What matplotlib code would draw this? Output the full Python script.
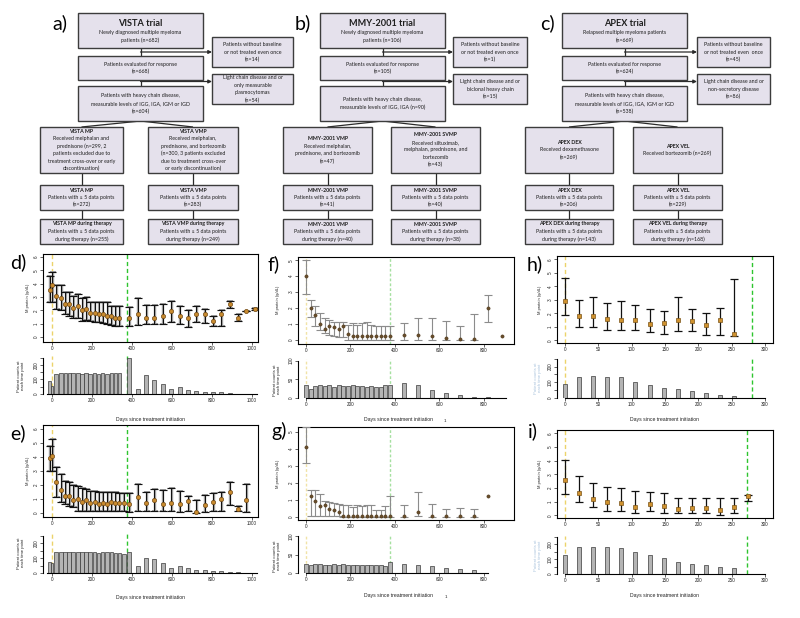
import numpy as np
import matplotlib
matplotlib.use('Agg')
import matplotlib.pyplot as plt
from matplotlib.patches import Rectangle

# ---------------- DATA ----------------
# Panel d (VISTA MP)
d_t = [-12, 0, 22, 45, 67, 87, 105, 128, 150, 170, 192, 213, 233, 253, 275, 297, 317, 337,
       387, 428, 470, 512, 553, 597, 638, 680, 722, 763, 805, 847, 888, 930, 972, 1013]
d_mean = [3.55, 3.9, 3.1, 2.9, 2.5, 2.5, 2.2, 2.3, 2.0, 2.1, 1.8, 1.8, 1.7, 1.75, 1.6, 1.55, 1.4, 1.45,
          1.4, 1.75, 1.45, 1.45, 1.6, 1.95, 1.6, 1.45, 1.75, 1.75, 1.2, 1.75, 2.45, 1.4, 1.95, 2.1]
d_lo = [2.6, 2.6, 2.1, 2.0, 1.75, 1.6, 1.4, 1.45, 1.2, 1.25, 1.2, 1.1, 1.1, 1.05, 1.0, 0.9, 0.8, 0.8,
        0.8, 0.9, 0.95, 0.95, 1.0, 1.1, 1.0, 0.75, 1.1, 1.05, 0.8, 0.8, 2.2, 1.2, 1.95, 2.05]
d_hi = [4.55, 4.9, 3.9, 3.9, 3.4, 3.4, 3.1, 3.2, 2.9, 3.0, 2.6, 2.6, 2.6, 2.6, 2.6, 2.3, 2.3, 2.35,
        2.25, 2.9, 2.4, 2.4, 2.5, 2.7, 2.3, 2.0, 2.3, 2.1, 1.6, 2.05, 2.7, 1.75, 1.95, 2.2]
d_n = [87, 54, 141, 143, 145, 146, 146, 146, 140, 143, 141, 144, 141, 143, 141, 145, 142, 145,
       248, 37, 128, 96, 70, 37, 48, 30, 22, 13, 11, 13, 4, 3, 2, 2]

# Panel e (VISTA VMP)
e_t = [-12, 0, 22, 45, 64, 84, 105, 128, 150, 170, 192, 213, 233, 253, 275, 297, 317, 337, 358,
       387, 428, 470, 512, 553, 597, 638, 680, 722, 763, 805, 847, 888, 930, 972]
e_mean = [3.9, 4.1, 2.2, 1.65, 1.2, 1.2, 0.95, 1.0, 0.8, 0.9, 0.7, 0.75, 0.6, 0.7, 0.65, 0.8, 0.7, 0.7, 0.7,
          0.6, 1.15, 0.7, 0.9, 0.65, 0.7, 0.6, 0.85, 0.05, 0.55, 0.8, 1.0, 1.5, 0.3, 0.95]
e_lo = [3.0, 3.0, 1.1, 0.8, 0.6, 0.5, 0.4, 0.1, 0.1, 0.1, 0.1, 0.1, 0.1, 0.1, 0.1, 0.1, 0.1, 0.1, 0.1,
        0.05, 0.15, 0.1, 0.1, 0.1, 0.1, 0.05, 0.1, 0.0, 0.05, 0.1, 0.1, 0.55, 0.1, 0.05]
e_hi = [4.8, 5.3, 3.3, 2.8, 2.3, 2.2, 2.0, 1.9, 1.8, 1.7, 1.6, 1.6, 1.5, 1.5, 1.5, 1.5, 1.5, 1.4, 1.4,
        1.4, 2.1, 1.5, 1.7, 1.65, 1.75, 1.55, 1.2, 0.9, 1.25, 1.45, 1.5, 2.2, 0.5, 2.05]
e_n = [75, 64, 139, 140, 140, 141, 139, 139, 138, 139, 139, 139, 137, 138, 138, 140, 137, 133, 128,
       143, 48, 98, 93, 68, 34, 45, 35, 23, 18, 16, 11, 5, 5, 2]

# Panel f (MMY-2001 VMP)
f_t = [0, 21, 42, 63, 84, 105, 126, 147, 168, 189, 210, 231, 252, 273, 294, 315, 336, 357, 378,
       440, 503, 566, 629, 692, 755, 818, 880]
f_mean = [4.0, 2.0, 1.55, 1.0, 0.7, 0.85, 0.8, 0.7, 0.85, 0.4, 0.27, 0.27, 0.27, 0.27, 0.27, 0.27, 0.27, 0.27, 0.27,
          0.3, 0.3, 0.27, 0.1, 0.05, 0.05, 2.0, 0.27]
f_lo = [2.9, 1.45, 0.9, 0.6, 0.45, 0.3, 0.25, 0.2, 0.2, 0.0, 0.0, 0.0, 0.0, 0.0, 0.0, 0.0, 0.0, 0.0, 0.0,
        0.0, 0.0, 0.0, 0.0, 0.0, 0.0, 1.1, np.nan]
f_hi = [5.0, 2.5, 2.1, 1.7, 1.4, 1.25, 1.15, 1.15, 1.15, 0.95, 1.05, 0.95, 1.05, 1.1, 0.95, 0.9, 0.9, 0.9, 0.85,
        1.05, 1.35, 1.4, 1.2, 0.85, 1.6, 2.8, np.nan]
f_bt = [0, 21, 42, 63, 84, 105, 126, 147, 168, 189, 210, 231, 252, 273, 294, 315, 336, 357, 378,
        440, 503, 566, 629, 692, 755, 818, 880]
f_n = [34, 23, 32, 34, 32, 34, 30, 34, 32, 33, 34, 32, 32, 30, 31, 30, 29, 34, 34,
       39, 34, 21, 14, 9, 4, 2, 1]

# Panel g (MMY-2001 SVMP)
g_t = [0, 21, 42, 63, 84, 105, 126, 147, 168, 189, 210, 231, 252, 273, 294, 315, 336, 357, 378,
       440, 503, 566, 629, 692, 755, 818]
g_mean = [4.1, 1.2, 0.95, 0.65, 0.7, 0.45, 0.4, 0.3, 0.04, 0.04, 0.04, 0.04, 0.04, 0.04, 0.04, 0.04, 0.04, 0.04, 0.04,
          0.04, 0.25, 0.04, 0.04, 0.04, 0.04, 1.2]
g_lo = [3.2, 0.05, 0.05, 0.05, 0.05, 0.05, 0.05, 0.05, 0.0, 0.0, 0.0, 0.0, 0.0, 0.0, 0.0, 0.0, 0.0, 0.0, 0.0,
        0.0, 0.05, 0.0, 0.0, 0.0, 0.0, np.nan]
g_hi = [5.3, 1.6, 1.55, 1.33, 0.95, 0.85, 0.8, 0.75, 0.7, 0.7, 0.55, 0.7, 0.65, 0.7, 0.7, 0.4, 0.4, 0.6, 1.2,
        0.7, 1.45, 0.75, 0.45, 0.5, 0.45, np.nan]
g_bt = [0, 21, 42, 63, 84, 105, 126, 147, 168, 189, 210, 231, 252, 273, 294, 315, 336, 357, 378,
        440, 503, 566, 629, 692, 755]
g_n = [25, 21, 24, 24, 23, 23, 24, 23, 24, 23, 23, 23, 23, 23, 23, 22, 21, 18, 30,
       25, 23, 20, 15, 11, 7]

# Panel h (APEX DEX)
h_t = [0, 21, 42, 63, 84, 105, 127, 148, 169, 190, 211, 232, 253]
h_mean = [2.9, 1.8, 1.8, 1.6, 1.5, 1.5, 1.2, 1.3, 1.5, 1.4, 1.1, 1.5, 0.5]
h_lo = [1.9, 1.0, 1.0, 0.8, 0.75, 0.8, 0.6, 0.5, 0.7, 0.68, 0.43, 0.38, 0.3]
h_hi = [4.6, 3.0, 3.2, 2.8, 2.9, 2.6, 2.3, 2.2, 3.2, 2.3, 2.0, 2.4, 4.55]
h_n = [92, 135, 140, 131, 135, 103, 82, 62, 56, 43, 32, 22, 15]

# Panel i (APEX VEL)
i_t = [0, 21, 42, 63, 84, 105, 127, 148, 169, 190, 211, 232, 253, 274]
i_mean = [2.55, 1.6, 1.2, 1.0, 0.9, 0.6, 0.8, 0.7, 0.45, 0.5, 0.55, 0.38, 0.62, 1.38]
i_lo = [1.55, 1.0, 0.6, 0.3, 0.3, 0.2, 0.3, 0.2, 0.2, 0.2, 0.2, 0.05, 0.2, 1.08]
i_hi = [4.05, 2.9, 2.4, 2.1, 2.0, 1.8, 1.7, 1.65, 1.3, 1.3, 1.3, 1.25, 1.25, 1.5]
i_n = [130, 180, 182, 180, 172, 150, 125, 105, 82, 68, 62, 45, 38, 3]

# Reference lines (days): treatment start and end of therapy
d_end, e_end, f_end, g_end, h_end, i_end = 375, 375, 378, 378, 281, 273

# Flowchart texts
fc_a = {
    'title': ["VISTA trial", "Newly diagnosed multiple myeloma", "patients (n=682)"],
    'side1': ["Patients without baseline", "or not treated even once", "(n=14)"],
    'eval': ["Patients evaluated for response", "(n=668)"],
    'side2': ["Light chain disease and or", "only measurable", "plasmocytomas", "(n=54)"],
    'heavy': ["Patients with heavy chain disease,", "measurable levels of IGG, IGA, IGM or IGD", "(n=604)"],
    'L1': ["VISTA MP", "Received melphalan and", "prednisone (n=299, 2", "patients excluded due to",
           "treatment cross-over or early", "discontinuation)"],
    'R1': ["VISTA VMP", "Received melphalan,", "prednisone, and bortezomib", "(n=300, 3 patients excluded",
           "due to treatment cross-over", "or early discontinuation)"],
    'L2': ["VISTA MP", "Patients with \u2265 5 data points", "(n=272)"],
    'R2': ["VISTA VMP", "Patients with \u2265 5 data points", "(n=283)"],
    'L3': ["VISTA MP during therapy", "Patients with \u2265 5 data points", "during therapy (n=255)"],
    'R3': ["VISTA VMP during therapy", "Patients with \u2265 5 data points", "during therapy (n=249)"],
}
fc_b = {
    'title': ["MMY-2001 trial", "Newly diagnosed multiple myeloma", "patients (n=106)"],
    'side1': ["Patients without baseline", "or not treated even once", "(n=1)"],
    'eval': ["Patients evaluated for response", "(n=105)"],
    'side2': ["Light chain disease and or", "biclonal heavy chain", "(n=15)"],
    'heavy': ["Patients with heavy chain disease,", "measurable levels of IGG, IGA (n=90)"],
    'L1': ["MMY-2001 VMP", "Received melphalan,", "prednisone, and bortezomib", "(n=47)"],
    'R1': ["MMY-2001 SVMP", "Received siltuximab,", "melphalan, prednisone, and", "bortezomib", "(n=43)"],
    'L2': ["MMY-2001 VMP", "Patients with \u2265 5 data points", "(n=41)"],
    'R2': ["MMY-2001 SVMP", "Patients with \u2265 5 data points", "(n=40)"],
    'L3': ["MMY-2001 VMP", "Patients with \u2265 5 data points", "during therapy (n=40)"],
    'R3': ["MMY-2001 SVMP", "Patients with \u2265 5 data points", "during therapy (n=38)"],
}
fc_c = {
    'title': ["APEX trial", "Relapsed multiple myeloma patients", "(n=669)"],
    'side1': ["Patients without baseline", "or not treated even  once", "(n=45)"],
    'eval': ["Patients evaluated for response", "(n=624)"],
    'side2': ["Light chain disease and or", "non-secretory disease", "(n=86)"],
    'heavy': ["Patients with heavy chain disease,", "measurable levels of IGG, IGA, IGM or IGD", "(n=538)"],
    'L1': ["APEX DEX", "Received dexamethasone", "(n=269)"],
    'R1': ["APEX VEL", "Received bortezomib (n=269)"],
    'L2': ["APEX DEX", "Patients with \u2265 5 data points", "(n=206)"],
    'R2': ["APEX VEL", "Patients with \u2265 5 data points", "(n=229)"],
    'L3': ["APEX DEX during therapy", "Patients with \u2265 5 data points", "during therapy (n=143)"],
    'R3': ["APEX VEL during therapy", "Patients with \u2265 5 data points", "during therapy (n=168)"],
}

# ---------------- FIGURE ----------------
W, H = 800, 618
fig = plt.figure(figsize=(8, 6.18), dpi=100)
FC_FONT = ['Lato', 'DejaVu Sans']
AX_FONT = ['Liberation Sans', 'DejaVu Sans']


def px_axes(x0, y0, x1, y1, **kw):
    return fig.add_axes([x0 / W, 1 - y1 / H, (x1 - x0) / W, (y1 - y0) / H], **kw)


ov = px_axes(0, 0, W, H, zorder=10)
ov.set_xlim(0, W)
ov.set_ylim(H, 0)
ov.axis('off')

BOXFACE = '#e5e1ec'
BOXEDGE = '#3c3c3c'
TXT = '#1e1e1e'


def fbox(x0, y0, x1, y1, lines, kind):
    ov.add_patch(Rectangle((x0, y0), x1 - x0, y1 - y0, facecolor=BOXFACE,
                           edgecolor=BOXEDGE, lw=1.0, zorder=2))
    specs = []
    for k, s in enumerate(lines):
        if kind == 'title' and k == 0:
            specs.append((s, 6.6, 'bold', 11.5))
        elif kind == 'header' and k == 0:
            specs.append((s, 3.8, 'bold', 7.4))
        else:
            specs.append((s, 3.8, 'normal', 7.5))
    tot = sum(sp[3] for sp in specs)
    y = (y0 + y1) / 2 - tot / 2
    for s, fs, fw, lh in specs:
        ov.text((x0 + x1) / 2, y + lh / 2, s, ha='center', va='center', fontsize=fs,
                fontweight=fw, family=FC_FONT, color=TXT, zorder=3)
        y += lh


def seg(x0, y0, x1, y1):
    ov.plot([x0, x1], [y0, y1], color='#2a2a2a', lw=0.9, zorder=1, solid_capstyle='butt')


def arrow(x0, y, x1):
    ov.annotate('', xy=(x1, y), xytext=(x0, y),
                arrowprops=dict(arrowstyle='-|>', lw=0.9, color='#2a2a2a',
                                mutation_scale=5, shrinkA=0, shrinkB=0), zorder=1)


def flowchart(fc, mx0, mx1, sx0, sx1, lx0, lx1, rx0, rx1, label, lab_x):
    cx = (mx0 + mx1) / 2
    lc = (lx0 + lx1) / 2
    rc = (rx0 + rx1) / 2
    fbox(mx0, 13, mx1, 48, fc['title'], 'title')
    fbox(sx0, 37, sx1, 67, fc['side1'], 'plain')
    fbox(mx0, 56, mx1, 80, fc['eval'], 'plain')
    fbox(sx0, 74, sx1, 104, fc['side2'], 'plain')
    fbox(mx0, 86, mx1, 121, fc['heavy'], 'plain')
    fbox(lx0, 127, lx1, 173, fc['L1'], 'header')
    fbox(rx0, 127, rx1, 173, fc['R1'], 'header')
    fbox(lx0, 185, lx1, 210, fc['L2'], 'header')
    fbox(rx0, 185, rx1, 210, fc['R2'], 'header')
    fbox(lx0, 219, lx1, 244, fc['L3'], 'header')
    fbox(rx0, 219, rx1, 244, fc['R3'], 'header')
    seg(cx, 48, cx, 56)
    arrow(cx, 52, sx0)
    seg(cx, 80, cx, 86)
    arrow(cx, 81.5, sx0)
    seg(cx, 121, lc, 127)
    seg(cx, 121, rc, 127)
    for xx in (lc, rc):
        seg(xx, 173, xx, 185)
        seg(xx, 210, xx, 219)
    ov.text(lab_x, 23, label, ha='center', va='center', fontsize=14, family=FC_FONT, color='black')


flowchart(fc_a, 78, 203, 212, 293, 40, 123, 148, 238, 'a)', 60)
flowchart(fc_b, 320, 445, 453, 527, 283, 372, 391, 480, 'b)', 303)
flowchart(fc_c, 562, 687, 697, 770, 525, 613, 633, 722, 'c)', 547)

YEL = '#ecd36a'
GRN = '#2ec52e'


def style_ticks(ax):
    ax.tick_params(direction='out', length=2, width=0.5, labelsize=3.3, pad=1.2, colors='#222222')
    for lab in ax.get_xticklabels() + ax.get_yticklabels():
        lab.set_family(AX_FONT)
    for lab in ax.get_yticklabels():
        lab.set_rotation(90)
        lab.set_va('center')


def panel(top, bar, t, m, lo, hi, bt, bn, endline, xlim, ytop, xticks, yticks, barmax, bar_yt, bar_yl,
          bwidth, bounds, kind):
    t = np.asarray(t, float)
    m = np.asarray(m, float)
    lo = np.asarray(lo, float)
    hi = np.asarray(hi, float)
    ok = ~np.isnan(lo)
    ax = px_axes(*top)
    ax.set_xlim(*xlim)
    ax.set_ylim(*ytop)
    if kind == 'vista':
        ax.errorbar(t[ok] + 4, m[ok], yerr=[m[ok] - lo[ok], hi[ok] - m[ok]], fmt='none',
                    ecolor='#a0a0a0', elinewidth=1.7, capsize=2.4, capthick=1.4, zorder=2)
        ax.errorbar(t[ok], m[ok], yerr=[m[ok] - lo[ok], hi[ok] - m[ok]], fmt='none',
                    ecolor='#111111', elinewidth=0.75, capsize=2.6, capthick=0.85, zorder=3)
        ax.plot(t, m, 'o', ms=3.0, mfc='#c98b2f', mec='#6e4714', mew=0.5, zorder=4)
        yc, gc, ls_y, ls_g = YEL, GRN, (0, (3, 2)), (0, (3, 2))
    elif kind == 'mmy':
        ax.errorbar(t[ok], m[ok], yerr=[m[ok] - lo[ok], hi[ok] - m[ok]], fmt='none',
                    ecolor='#8c8c8c', elinewidth=0.8, capsize=2.6, capthick=0.8, zorder=3)
        ax.plot(t, m, 'o', ms=2.3, mfc='#6b4f2c', mec='#4a3418', mew=0.4, zorder=4)
        yc, gc, ls_y, ls_g = '#f1e3a6', '#a6e0a0', (0, (2, 1.5)), (0, (2, 1.5))
    else:
        ax.errorbar(t[ok], m[ok], yerr=[m[ok] - lo[ok], hi[ok] - m[ok]], fmt='none',
                    ecolor='#111111', elinewidth=0.9, capsize=2.8, capthick=0.9, zorder=3)
        ax.plot(t, m, 's', ms=2.6, mfc='#cf922f', mec='#7a5318', mew=0.5, zorder=4)
        yc, gc, ls_y, ls_g = YEL, GRN, (0, (3, 2)), (0, (3, 2))
    ax.axvline(0, color=yc, lw=1.0, ls=ls_y, zorder=1)
    ax.axvline(endline, color=gc, lw=1.0, ls=ls_g, zorder=1)
    ax.set_xticks(xticks)
    ax.set_yticks(yticks)
    for sp in ax.spines.values():
        sp.set_linewidth(0.8)
    style_ticks(ax)

    bx = px_axes(*bar)
    bx.set_xlim(*xlim)
    bx.set_ylim(0, barmax)
    bx.bar(bt, bn, width=bwidth, color='#b4b4b4', edgecolor='#3a3a3a', linewidth=0.5, zorder=2)
    bx.axvline(0, color=yc, lw=1.0, ls=ls_y, zorder=1)
    bx.axvline(endline, color=gc, lw=1.0, ls=ls_g, zorder=1)
    bx.spines['top'].set_visible(False)
    bx.spines['right'].set_visible(False)
    bx.spines['left'].set_bounds(0, bar_yt[-1])
    bx.spines['bottom'].set_bounds(*bounds)
    for sp in ('left', 'bottom'):
        bx.spines[sp].set_linewidth(0.8)
    bx.set_xticks(xticks)
    bx.set_yticks(bar_yt)
    bx.set_yticklabels(bar_yl)
    bx.patch.set_alpha(0)
    style_ticks(bx)
    return ax, bx


def bar_widths(bt, maxw):
    bt = np.asarray(bt, float)
    gaps = np.diff(bt)
    left = np.concatenate([[maxw], gaps])
    right = np.concatenate([gaps, [maxw]])
    return 0.92 * np.minimum(np.minimum(left, right), maxw)


vy_t = [0, 50, 100, 150, 200, 250]
vy_l = ['0', '', '100', '', '200', '']

panel((43, 254, 258, 342), (43, 356, 258, 394), d_t, d_mean, d_lo, d_hi, d_t, d_n, d_end,
      (-45, 1030), (-0.37, 6.22), range(0, 1001, 200), range(0, 7), 262, vy_t, vy_l,
      bar_widths(d_t, 21), (-25, 1025), 'vista')
panel((43, 425, 258, 517), (43, 534, 258, 573), e_t, e_mean, e_lo, e_hi, e_t, e_n, e_end,
      (-45, 1030), (-0.3, 6.3), range(0, 1001, 200), range(0, 7), 262, vy_t, vy_l,
      bar_widths(e_t, 21), (-25, 1025), 'vista')
panel((298, 257, 514, 344), (298, 359, 514, 398), f_t, f_mean, f_lo, f_hi, f_bt, f_n, f_end,
      (-36, 935), (-0.25, 5.2), range(0, 801, 200), range(0, 6), 104, [0, 50, 100], ['0', '50', '100'],
      bar_widths(f_bt, 19), (0, 900), 'mmy')
panel((298, 427, 514, 520), (298, 535, 514, 573), g_t, g_mean, g_lo, g_hi, g_bt, g_n, g_end,
      (-36, 935), (-0.2, 5.3), range(0, 801, 200), range(0, 6), 104, [0, 50, 100], ['0', '50', '100'],
      bar_widths(g_bt, 19), (0, 820), 'mmy')
panel((557, 256, 773, 343), (557, 358, 773, 398), h_t, h_mean, h_lo, h_hi, h_t, h_n, h_end,
      (-12, 312), (-0.2, 6.25), range(0, 301, 50), range(0, 7), 255, vy_t, vy_l,
      6, (0, 300), 'apex')
panel((557, 430, 773, 518), (557, 536, 773, 574), i_t, i_mean, i_lo, i_hi, i_t, i_n, i_end,
      (-12, 312), (-0.2, 6.25), range(0, 301, 50), range(0, 7), 255, vy_t, vy_l,
      6, (0, 300), 'apex')

# panel letters and axis titles
for lab, x, y in [('d)', 18, 262), ('e)', 18, 433), ('f)', 274, 264), ('g)', 279, 431),
                  ('h)', 535, 264), ('i)', 533, 431)]:
    ov.text(x, y, lab, ha='center', va='center', fontsize=14, family=FC_FONT, color='black')

for x, y in [(28, 298), (28, 471), (278, 300), (278, 474), (540, 300), (540, 474)]:
    ov.text(x, y, 'M protein (g/dL)', rotation=90, ha='center', va='center', fontsize=2.9,
            family=AX_FONT, color='#222222')
for x, y, c in [(21, 376, '#222222'), (21, 553, '#222222'), (277, 380, '#222222'), (277, 556, '#222222'),
                (538, 378, '#a9c3dd'), (538, 555, '#a9c3dd')]:
    ov.text(x, y, 'Patient counts at\neach time point', rotation=90, ha='center', va='center',
            fontsize=3.1, family=AX_FONT, color=c, linespacing=1.1)
for x, y in [(150, 420), (150, 597), (398, 419), (398, 596), (664, 419), (664, 596)]:
    ov.text(x, y, 'Days since treatment initiation', ha='center', va='center', fontsize=3.7,
            family=AX_FONT, color='#222222')
for x, y in [(445, 421), (446, 597)]:
    ov.text(x, y, '1', ha='center', va='center', fontsize=3.2, family=AX_FONT, color='#222222')

fig.savefig('out.png', dpi=100)
